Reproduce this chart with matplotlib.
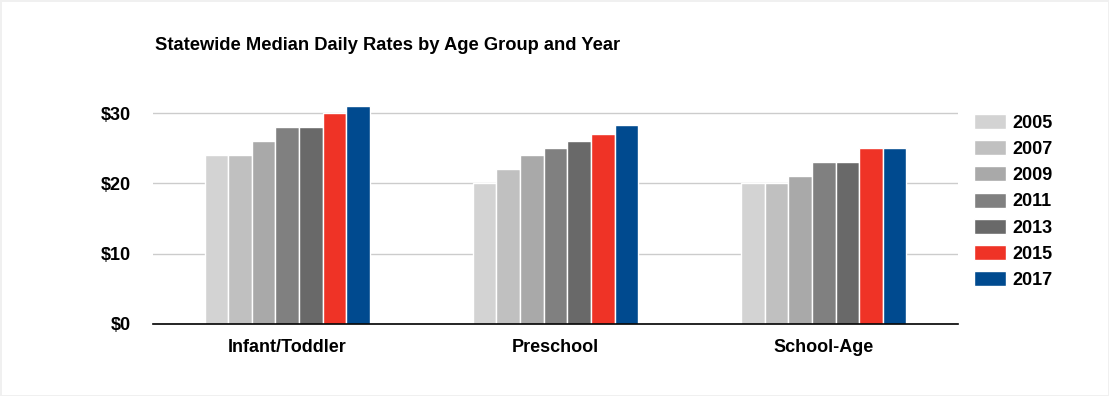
import matplotlib.pyplot as plt
import numpy as np

# datos
groups = ['Infant/Toddler', 'Preschool', 'School-Age']
years = ['2005', '2007', '2009', '2011', '2013', '2015', '2017']
rates = {
    '2005': [24, 20, 20],
    '2007': [24, 22, 20],
    '2009': [26, 24, 21],
    '2011': [28, 25, 23],
    '2013': [28, 26, 23],
    '2015': [30, 27, 25],
    '2017': [31, 28.3, 25],
}
colors = ['#d3d3d3', '#c0c0c0', '#a9a9a9', '#808080', '#696969', '#ef3326', '#004a8f']
yticks = [0, 10, 20, 30]

plt.rcParams['font.family'] = ['Liberation Sans', 'DejaVu Sans']
plt.rcParams['font.weight'] = 'bold'

fig = plt.figure(figsize=(11.09, 3.96), dpi=100)
# borde gris muy claro alrededor de la imagen
fig.patch.set_edgecolor('#f0f0f0')
fig.patch.set_linewidth(2)
ax = fig.add_axes([153 / 1109, 1 - 324 / 396, 805 / 1109, 232 / 396])

x = np.arange(len(groups))
w = 0.088
for i, (yr, c) in enumerate(zip(years, colors)):
    ax.bar(x + (i - 3) * w, rates[yr], w, color=c, edgecolor='white',
           linewidth=1, label=yr, zorder=3)

ax.set_xlim(-0.5, 2.5)
ax.set_ylim(0, 33)
ax.set_yticks(yticks)
ax.set_yticklabels(['$%d' % v for v in yticks], fontsize=13, fontweight='bold')
ax.set_xticks(x)
ax.set_xticklabels(groups, fontsize=13, fontweight='bold')
ax.tick_params(axis='y', length=0, pad=16)
ax.tick_params(axis='x', length=0, pad=11)
ax.grid(axis='y', color='#cccccc', linewidth=1, zorder=0)
for s in ['top', 'right', 'left']:
    ax.spines[s].set_visible(False)
ax.spines['bottom'].set_color('black')
ax.spines['bottom'].set_linewidth(1.2)
ax.spines['bottom'].set_zorder(4)

fig.text(155 / 1109, 1 - 45 / 396, 'Statewide Median Daily Rates by Age Group and Year',
         fontsize=13.25, fontweight='bold', va='center')

ax.legend(loc='upper left', bbox_to_anchor=(974 / 1109, 1 - 114 / 396),
          bbox_transform=fig.transFigure, frameon=False, fontsize=13,
          handlelength=1.78, handleheight=0.9, labelspacing=0.47, handletextpad=0.33,
          borderaxespad=0, borderpad=0)

plt.savefig('out.png', dpi=100)
